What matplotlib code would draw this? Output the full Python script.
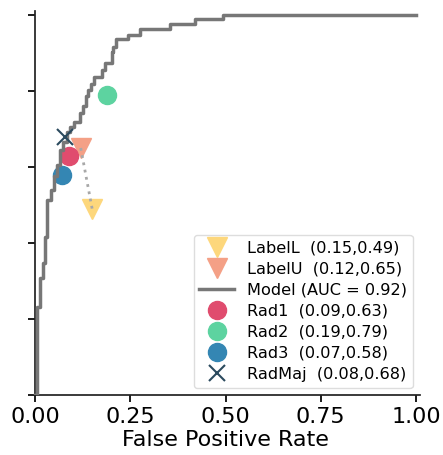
import matplotlib
matplotlib.use('Agg')
import matplotlib.pyplot as plt

# ROC curve of the model (corner points)
fpr = [0.0, 0.005, 0.005, 0.013, 0.013, 0.02, 0.02, 0.026, 0.026, 0.031, 0.031,
       0.042, 0.042, 0.05, 0.05, 0.058, 0.058, 0.066, 0.066, 0.073, 0.073,
       0.084, 0.084, 0.092, 0.092, 0.102, 0.102, 0.118, 0.118, 0.126, 0.126,
       0.134, 0.134, 0.14, 0.14, 0.148, 0.148, 0.155, 0.155, 0.176, 0.176,
       0.184, 0.184, 0.201, 0.201, 0.205, 0.205, 0.213, 0.213, 0.244, 0.244,
       0.276, 0.276, 0.354, 0.354, 0.42, 0.42, 0.493, 0.493, 1.0]
tpr = [0.0, 0.0, 0.232, 0.232, 0.308, 0.308, 0.347, 0.347, 0.416, 0.416, 0.513,
       0.513, 0.539, 0.539, 0.576, 0.576, 0.605, 0.605, 0.645, 0.645, 0.666,
       0.666, 0.692, 0.692, 0.705, 0.705, 0.718, 0.718, 0.742, 0.742, 0.761,
       0.761, 0.787, 0.787, 0.803, 0.803, 0.818, 0.818, 0.837, 0.837, 0.855,
       0.855, 0.874, 0.874, 0.903, 0.903, 0.916, 0.916, 0.938, 0.938, 0.947,
       0.947, 0.962, 0.962, 0.975, 0.975, 0.989, 0.989, 1.0, 1.0]
auc = 0.92

# operating points of the readers / labels
labels_fp = {'LabelL': 0.15, 'LabelU': 0.12}
labels_tp = {'LabelL': 0.49, 'LabelU': 0.65}
rads_fp = {'Rad1': 0.09, 'Rad2': 0.19, 'Rad3': 0.07}
rads_tp = {'Rad1': 0.63, 'Rad2': 0.79, 'Rad3': 0.58}
radmaj_fp, radmaj_tp = 0.08, 0.68

label_colors = {'LabelL': '#fdd77c', 'LabelU': '#f4a086'}
rad_colors = {'Rad1': '#e04c6e', 'Rad2': '#5dd3a0', 'Rad3': '#3486b3'}

fig = plt.figure(figsize=(4.43, 4.55), dpi=100)
ax = fig.add_axes([0.0704, 0.1319, 0.8774, 0.8435])

handles = {}
for name in ['LabelL', 'LabelU']:
    h, = ax.plot(labels_fp[name], labels_tp[name], 'v', color=label_colors[name],
                 markersize=14, linestyle='none', zorder=2,
                 label=f"{name}  ({labels_fp[name]:.2f},{labels_tp[name]:.2f})")
    handles[name] = h
ax.plot([labels_fp['LabelU'], labels_fp['LabelL']],
        [labels_tp['LabelU'], labels_tp['LabelL']],
        linestyle=':', color='#a8a8a8', lw=2, zorder=3)

for name in ['Rad1', 'Rad2', 'Rad3']:
    h, = ax.plot(rads_fp[name], rads_tp[name], 'o', color=rad_colors[name],
                 markersize=13, linestyle='none', zorder=2,
                 label=f"{name}  ({rads_fp[name]:.2f},{rads_tp[name]:.2f})")
    handles[name] = h

h, = ax.plot(radmaj_fp, radmaj_tp, 'x', color='#2b4a5e', markersize=12, mew=1.5,
             linestyle='none', zorder=4,
             label=f"RadMaj  ({radmaj_fp:.2f},{radmaj_tp:.2f})")
handles['RadMaj'] = h

h, = ax.plot(fpr, tpr, color='#777777', lw=2.5, zorder=3,
             label=f"Model (AUC = {auc:.2f})")
handles['Model'] = h

order = ['LabelL', 'LabelU', 'Model', 'Rad1', 'Rad2', 'Rad3', 'RadMaj']
ax.legend([handles[k] for k in order], [handles[k].get_label() for k in order],
          loc='lower right', fontsize=11.6, handlelength=2.15, borderpad=0.35,
          labelspacing=0.38, borderaxespad=0.45,
          edgecolor='#dddddd', framealpha=1)

ax.set_xlim(-0.01, 1.01)
ax.set_ylim(0, 1.01)
ax.spines['left'].set_position(('data', 0))
ax.spines['top'].set_visible(False)
ax.spines['right'].set_visible(False)
for s in ['left', 'bottom']:
    ax.spines[s].set_linewidth(1.25)
    ax.spines[s].set_color('#222222')

ax.set_xticks([0, 0.25, 0.5, 0.75, 1.0])
ax.set_yticks([0, 0.2, 0.4, 0.6, 0.8, 1.0])
ax.tick_params(labelsize=16, width=1.25, length=5)
ax.tick_params(axis='y', labelleft=False)
ax.set_xlabel('False Positive Rate', fontsize=16, labelpad=2)

fig.savefig('out.png', dpi=100)
